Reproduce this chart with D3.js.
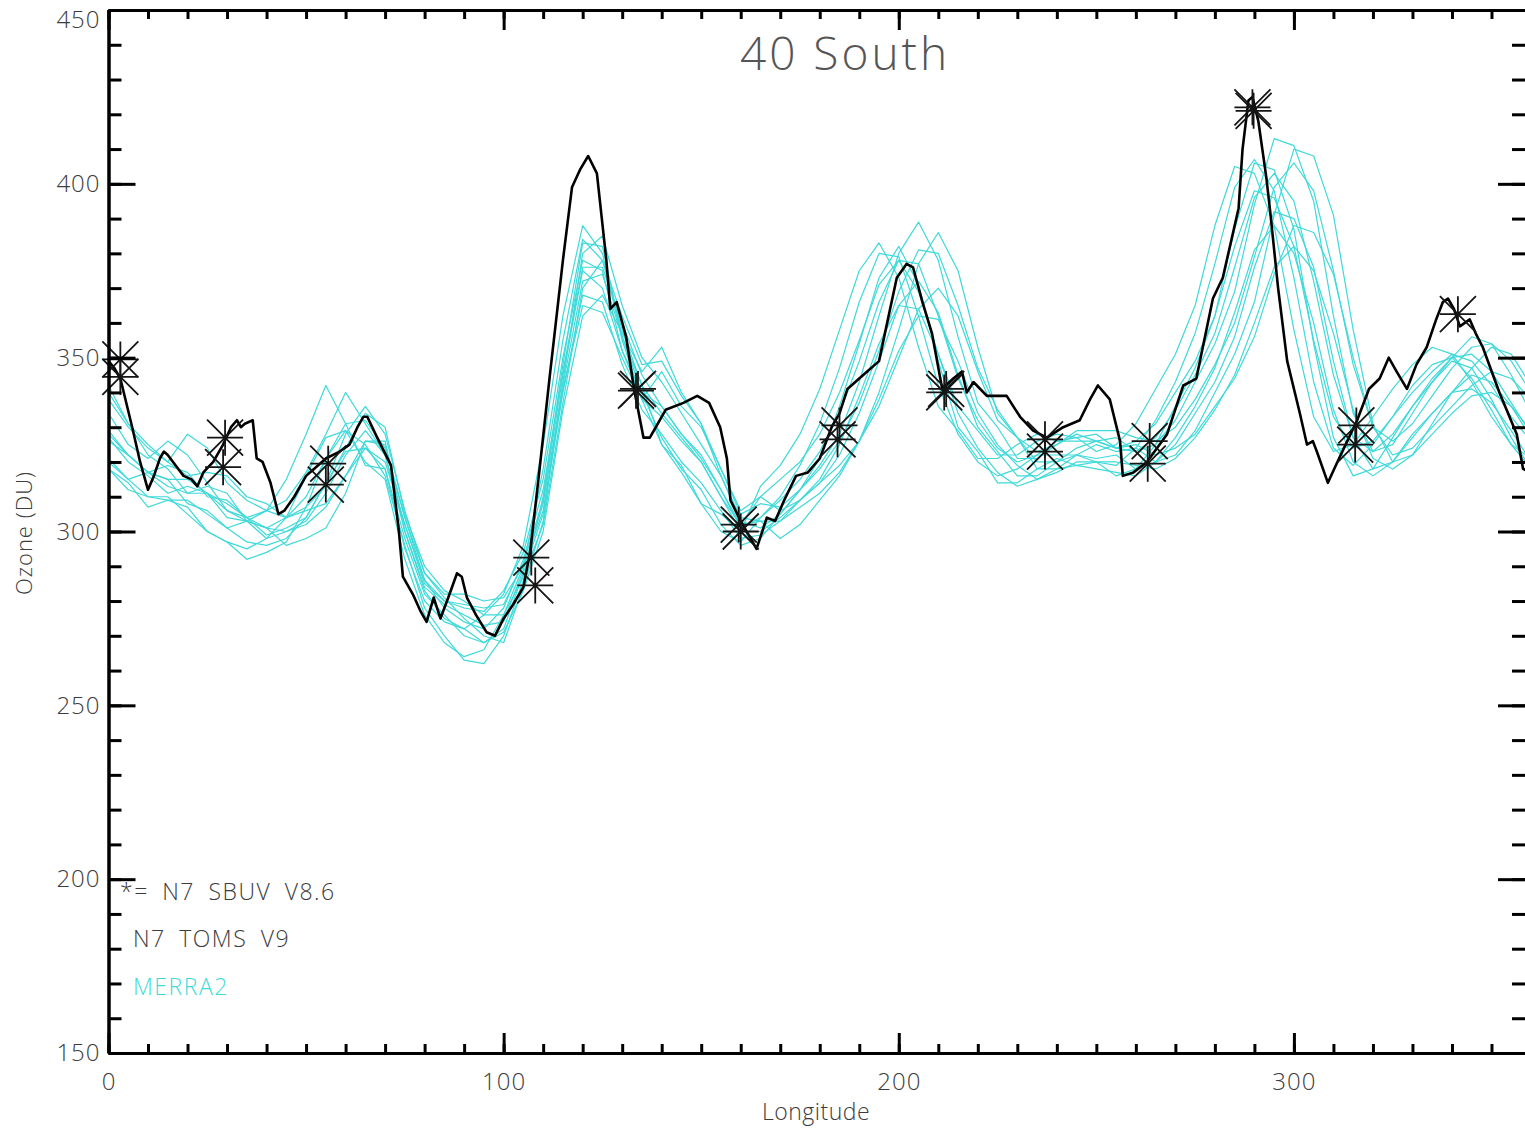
<!DOCTYPE html>
<html lang="en">
<head>
  <meta charset="UTF-8">
  <title>40 South</title>
  <script src="https://cdn.jsdelivr.net/npm/d3@7"></script>
  <style>
    * { margin: 0; padding: 0; }
    body { background: #fff; overflow: hidden; }
    svg text { font-family: 'Open Sans', 'DejaVu Sans', sans-serif; font-weight: 300; fill: #3c3c3c; }
  </style>
</head>
<body>
  <svg id="chart" width="1525" height="1133"></svg>
  <script>
    // N7 TOMS V9 (black line)
    const tomsLon = [0,1.5,3,6,8,10,11.5,13,14,15,17,19,21,22.5,24,26.5,29,31,32.5,33.5,34.5,36.5,37.5,39,41,43,44.5,47,50,52,55,58.5,61,63,64.5,65.5,68,71.5,73.5,74.5,77,79,80.5,82.3,84,86,88.2,89.4,90.7,93,95.7,97.8,100,102.4,105,106.7,109,111.7,115,117.3,119.3,121.4,123.6,126,127,128.6,131,133,135.4,137,141,145.5,149,152,154.8,156.5,157.4,160,164,166.6,168.7,171,174,177,180,183,185,187,189,192,195,197.8,199.5,202,203.6,206,208.4,211,213.8,216,217.2,218.9,222.3,227.3,230.7,234,237.5,241.6,245.8,248.4,250.4,253.4,256,256.7,259.4,262.8,267.9,272,275.3,279.5,282,284,286,287,288.5,289.5,291,293,294,296,298.3,301.5,303.3,304.8,305.8,308.6,311,313.5,316,319,321.7,324,326,328.6,331,333.6,336,337.7,339,340.5,342,344.5,346,347.8,352,356.4,358,360];
    const tomsVal = [349,347,344,330,320,312,316,321,323,322,319,316,315,313,317,320,325,330,332,330,331,332,321,320,314,305,306,310,316,318,321,323,325,330,333,333,327,319,300,287,282,277,274,281,275,281,288,287,281,276,271,270,275,279,284,294,317,345,378,399,404,408,403,378,364,366,356,341,327,327,335,337,339,337,330,321,309,303,295,304,303,309,316,317,321,330,334,341,343,346,349,364,373,377,376,366,357,341,344,346,340,343,339,339,333,329,327,330,332,338,342,338,326,316,317,320,328,342,344,367,373,383,393,410,424,425,418,402,392,370,349,334,325,326,323,314,320,326,332,341,344,350,346,341,348,353,361,366,367,364,359,361,357,353,340,328,318,317];

    // N7 SBUV V8.6 (asterisks)
    const sbuvLon = [3,3,29.5,29,55.6,55,107,108,133.5,134,159.5,160,185,184.5,211.5,212,237,237,263.5,263,289.5,289.8,315.8,315.5,341.5];
    const sbuvVal = [349.5,344.5,327,318.5,319.5,313.5,292.5,284.5,340.5,341,302,300,330.5,326.5,340,341,326.5,323,326,319.5,422,421,330.5,325,362.5];

    // MERRA2 (cyan lines), every 5 degrees of longitude
    const merraLon = [0,5,10,15,20,25,30,35,40,45,50,55,60,65,70,75,80,85,90,95,100,105,110,115,120,125,130,135,140,145,150,155,160,165,170,175,180,185,190,195,200,205,210,215,220,225,230,235,240,245,250,255,260,265,270,275,280,285,290,295,300,305,310,315,320,325,330,335,340,345,350,355,360];
    const merra01 = [321,315,317,315,308,306,301,303,306,315,328,342,331,319,318,295,280,274,272,276,282,296,325,362,388,380,355,338,325,319,308,305,300,313,319,328,341,358,375,383,373,353,336,329,321,321,325,328,326,327,323,325,331,341,351,365,388,405,403,388,358,333,323,325,333,341,348,353,351,343,333,325,321];
    const merra02 = [318,312,310,310,305,300,297,295,298,304,316,327,329,320,315,292,276,268,264,266,276,290,318,355,384,378,358,342,325,317,308,300,297,304,310,319,331,347,366,380,379,362,342,328,320,316,318,322,322,322,320,319,324,332,343,357,377,399,407,398,373,343,324,319,325,333,342,348,350,344,335,325,318];
    const merra03 = [326,322,317,319,317,310,309,304,306,309,317,328,340,331,322,302,285,280,278,277,283,294,315,350,378,375,352,338,333,326,320,310,302,310,315,320,328,340,355,371,378,369,351,336,329,322,322,326,328,327,328,324,326,331,340,349,362,382,398,396,382,355,333,324,326,333,340,346,351,349,342,333,326];
    const merra04 = [318,314,307,309,307,300,297,292,294,297,307,321,329,325,316,296,278,270,263,262,270,286,310,348,383,382,356,340,327,318,312,302,296,298,305,312,321,336,354,373,382,371,349,330,323,314,314,318,321,319,320,316,318,325,336,347,362,387,406,404,387,354,327,316,318,327,336,343,349,347,338,327,318];
    const merra05 = [328,322,317,315,315,311,306,303,301,304,310,321,331,332,324,304,286,278,274,272,278,292,312,346,376,376,360,345,336,328,321,312,301,304,309,315,323,334,349,366,378,377,362,344,332,324,320,322,326,326,326,324,323,327,335,345,357,376,396,403,395,372,345,327,323,328,336,344,350,351,346,337,328];
    const merra06 = [320,315,310,309,309,305,301,297,296,298,304,314,323,324,318,298,282,276,270,268,272,288,305,340,368,366,348,335,328,320,314,306,298,299,303,309,315,325,339,354,365,364,351,334,324,317,313,315,318,319,318,317,316,320,327,336,347,363,381,388,380,360,335,320,316,320,328,334,340,341,337,329,320];
    const merra07 = [334,325,321,326,322,314,306,304,299,301,304,314,328,336,328,306,288,281,275,270,268,284,303,343,380,385,365,350,343,334,325,316,303,301,305,312,319,328,343,362,380,389,378,356,337,330,321,321,325,328,326,327,323,325,332,343,354,369,394,413,411,395,362,334,323,325,334,343,350,356,354,345,334];
    const merra08 = [327,320,316,311,313,311,304,303,298,300,303,311,322,329,322,300,284,279,276,273,274,289,308,342,372,374,356,342,334,327,320,310,300,300,304,309,314,322,334,349,365,372,363,345,330,323,316,316,320,322,321,322,318,320,325,334,343,356,376,392,390,376,349,327,318,320,327,334,340,345,343,336,327];
    const merra09 = [340,331,325,320,328,324,314,309,306,304,307,313,324,334,330,305,290,283,280,276,276,287,302,337,370,378,362,348,349,339,331,318,305,308,307,312,318,326,337,352,369,381,380,365,347,335,327,323,325,329,329,329,327,326,330,338,348,360,379,399,406,398,375,348,330,326,331,339,347,353,354,349,340];
    const merra10 = [329,322,317,313,311,311,308,304,301,300,302,307,316,324,320,302,286,280,279,278,279,291,309,345,375,370,352,340,336,328,322,312,302,303,303,307,311,317,326,338,352,362,361,349,334,325,319,315,317,320,320,320,319,318,321,327,335,345,360,376,382,375,357,335,321,318,322,328,334,339,340,336,329];
    const merra11 = [342,331,322,318,311,313,311,303,301,296,298,301,311,326,326,300,283,275,272,268,271,283,300,335,362,368,357,346,353,340,331,316,304,303,298,302,309,316,326,340,358,377,386,375,353,334,327,318,318,322,325,323,324,320,322,329,340,351,366,391,410,408,391,358,331,320,322,331,340,347,353,351,342];
    const merra12 = [338,330,324,320,316,317,316,310,308,304,306,308,316,326,325,304,288,282,282,280,281,290,306,341,365,363,350,338,346,336,330,318,306,310,306,309,314,319,326,336,350,364,370,362,346,332,327,320,320,324,326,324,325,322,324,328,336,344,356,374,388,386,374,350,330,322,324,330,336,342,346,344,338];
    const merraRuns = [merra01, merra02, merra03, merra04, merra05, merra06, merra07, merra08, merra09, merra10, merra11, merra12];

    const yMajor = [150, 200, 250, 300, 350, 400, 450];
    const yMinor = d3.range(150, 451, 10);
    const xMajor = [0, 100, 200, 300];
    const xMinor = d3.range(0, 361, 10);

    const plotLeft = 108.5, plotTop = 10, plotBottom = 1053, frameRight = 1527;

    const svg = d3.select('#chart');
    const x = d3.scaleLinear().domain([0, 360]).range([plotLeft, 1531]);
    const y = d3.scaleLinear().domain([150, 450]).range([plotBottom, plotTop]);

    svg.append('defs').append('clipPath').attr('id', 'plot')
      .append('rect')
      .attr('x', plotLeft).attr('y', plotTop)
      .attr('width', frameRight - plotLeft).attr('height', plotBottom - plotTop);

    const line = d3.line().x(d => x(d[0])).y(d => y(d[1]));

    // MERRA2
    const merraG = svg.append('g').attr('clip-path', 'url(#plot)');
    merraG.selectAll('path')
      .data(merraRuns)
      .join('path')
      .attr('d', run => line(merraLon.map((lon, i) => [lon, run[i]])))
      .attr('fill', 'none')
      .attr('stroke', '#3fd9d9')
      .attr('stroke-width', 1.2)
      .attr('stroke-linejoin', 'round');

    // TOMS
    svg.append('path')
      .attr('clip-path', 'url(#plot)')
      .attr('d', line(tomsLon.map((lon, i) => [lon, tomsVal[i]])))
      .attr('fill', 'none')
      .attr('stroke', '#000')
      .attr('stroke-width', 2.6)
      .attr('stroke-linejoin', 'round');

    // SBUV asterisks
    const r = 18;
    const star = `M${-r},0H${r}M0,${-r}V${r}M${-r},${-r}L${r},${r}M${-r},${r}L${r},${-r}`;
    svg.append('g')
      .selectAll('path')
      .data(sbuvLon.map((lon, i) => [lon, sbuvVal[i]]))
      .join('path')
      .attr('transform', d => `translate(${x(d[0])},${y(d[1])})`)
      .attr('d', star)
      .attr('fill', 'none')
      .attr('stroke', '#151515')
      .attr('stroke-width', 1.8);

    // axes
    function styleAxis(g) {
      g.attr('font-size', null).attr('font-family', null);
      g.selectAll('.domain').attr('stroke', '#000').attr('stroke-width', 3);
      g.selectAll('.tick line').attr('stroke', '#000').attr('stroke-width', 3);
      g.selectAll('.tick text').attr('font-size', 24).attr('letter-spacing', 1).attr('fill', '#3c3c3c');
    }

    const leftG = svg.append('g').attr('transform', `translate(${plotLeft},0)`);
    leftG.append('g').call(d3.axisLeft(y).tickValues(yMinor).tickSize(-13).tickSizeOuter(0).tickFormat('')).call(styleAxis);
    leftG.append('g').call(d3.axisLeft(y).tickValues(yMajor).tickSize(-27).tickSizeOuter(0).tickPadding(8)).call(styleAxis);
    // top label sits just below the frame so it is not cut off
    leftG.selectAll('.tick text').filter(d => d === 450).attr('dy', '0.72em');

    const rightG = svg.append('g').attr('transform', `translate(${frameRight},0)`);
    rightG.append('g').call(d3.axisRight(y).tickValues(yMinor).tickSize(-15).tickSizeOuter(0).tickFormat('')).call(styleAxis);
    rightG.append('g').call(d3.axisRight(y).tickValues(yMajor).tickSize(-29).tickSizeOuter(0).tickFormat('')).call(styleAxis);

    const bottomG = svg.append('g').attr('transform', `translate(0,${plotBottom})`);
    bottomG.append('g').call(d3.axisBottom(x).tickValues(xMinor).tickSize(-9).tickSizeOuter(0).tickFormat('')).call(styleAxis);
    bottomG.append('g').call(d3.axisBottom(x).tickValues(xMajor).tickSize(-20).tickSizeOuter(0).tickPadding(20)).call(styleAxis);

    const topG = svg.append('g').attr('transform', `translate(0,${plotTop})`);
    topG.append('g').call(d3.axisTop(x).tickValues(xMinor).tickSize(-9).tickSizeOuter(0).tickFormat('')).call(styleAxis);
    topG.append('g').call(d3.axisTop(x).tickValues(xMajor).tickSize(-20).tickSizeOuter(0).tickFormat('')).call(styleAxis);

    // titles
    svg.append('text')
      .attr('x', 845).attr('y', 70)
      .attr('text-anchor', 'middle')
      .attr('font-size', 46)
      .attr('letter-spacing', 3)
      .style('fill', '#555')
      .text('40 South');

    svg.append('text')
      .attr('x', 816).attr('y', 1120)
      .attr('text-anchor', 'middle')
      .attr('font-size', 23)
      .attr('letter-spacing', 0.5)
      .text('Longitude');

    svg.append('text')
      .attr('transform', 'translate(32,533) rotate(-90)')
      .attr('text-anchor', 'middle')
      .attr('font-size', 22)
      .attr('letter-spacing', 1)
      .text('Ozone (DU)');

    // legend
    const legend = [
      { label: '*= N7 SBUV V8.6', x: 120, y: 900, color: '#3c3c3c' },
      { label: 'N7 TOMS V9', x: 133, y: 947, color: '#3c3c3c' },
      { label: 'MERRA2', x: 133, y: 995, color: '#3fd9d9' }
    ];
    svg.append('g')
      .selectAll('text')
      .data(legend)
      .join('text')
      .attr('x', d => d.x).attr('y', d => d.y)
      .attr('font-size', 23)
      .attr('letter-spacing', 1.5)
      .attr('word-spacing', 6)
      .style('fill', d => d.color)
      .text(d => d.label);
  </script>
</body>
</html>
